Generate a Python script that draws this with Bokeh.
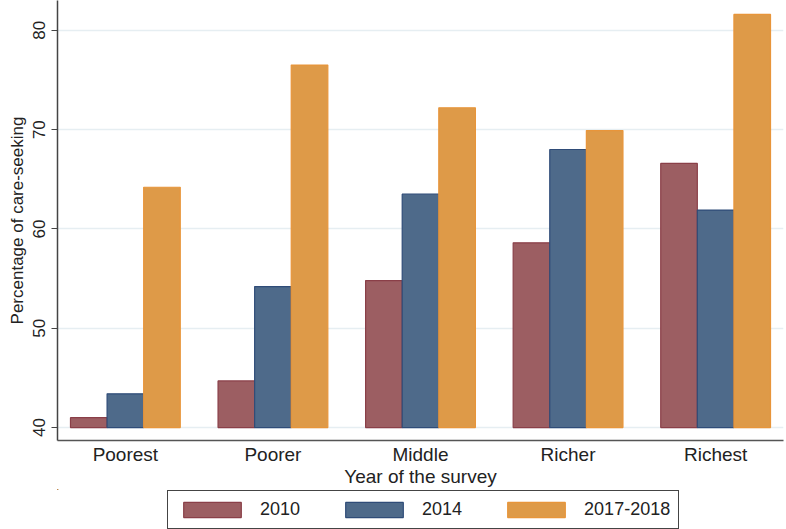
from bokeh.plotting import figure
from bokeh.layouts import column
from bokeh.models import ColumnDataSource, Range1d, FixedTicker, Legend, LegendItem
from bokeh.transform import dodge
from bokeh.embed import file_html
from bokeh.resources import INLINE

# ---- data ----
categories = ["Poorest", "Poorer", "Middle", "Richer", "Richest"]
positions = [1, 2, 3, 4, 5]
v2010 = [41.0, 44.7, 54.8, 58.6, 66.6]
v2014 = [43.4, 54.2, 63.5, 68.0, 61.9]
v2017 = [64.2, 76.5, 72.2, 69.9, 81.6]
series_labels = ["2010", "2014", "2017-2018"]
y_ticks = [40, 50, 60, 70, 80]

src = ColumnDataSource(dict(x=positions, v2010=v2010, v2014=v2014, v2017=v2017))

FONT = "Liberation Sans"

p = figure(frame_width=726, frame_height=440, output_backend="svg", toolbar_location=None,
           x_range=Range1d(0.54, 5.46), y_range=Range1d(38.7, 83.0),
           min_border_left=57, min_border_right=3, min_border_top=0,
           min_border_bottom=0,
           background_fill_color="white", border_fill_color="white")
p.outline_line_color = None

bw = 0.248
fills = ["#9c5e62", "#4e6a8a", "#de9a48"]
lines = ["#8a3f48", "#2f4c78", "#e8953a"]
cols = ["v2010", "v2014", "v2017"]
offs = [-bw, 0.0, bw]
for c, o, f, l in zip(cols, offs, fills, lines):
    p.vbar(x=dodge("x", o, range=p.x_range), top=c, bottom=40, width=bw,
           source=src, fill_color=f, line_color=l, line_width=1.2)

# axes
p.xaxis.ticker = FixedTicker(ticks=positions)
p.xaxis.major_label_overrides = {pos: cat for pos, cat in zip(positions, categories)}
p.xaxis.major_tick_out = 0
p.xaxis.major_tick_in = 0
p.xaxis.minor_tick_line_color = None
p.xaxis.major_label_text_font = FONT
p.xaxis.major_label_text_font_size = "19px"
p.xaxis.major_label_text_color = "#222222"
p.xaxis.major_label_standoff = 3
p.xaxis.axis_label = "Year of the survey"
p.xaxis.axis_label_text_font = FONT
p.xaxis.axis_label_text_font_size = "19px"
p.xaxis.axis_label_text_font_style = "normal"
p.xaxis.axis_label_text_color = "#222222"
p.xaxis.axis_label_standoff = -2
p.xaxis.axis_line_color = "#555555"
p.xaxis.axis_line_width = 1.5

p.yaxis.ticker = FixedTicker(ticks=y_ticks)
p.yaxis.major_label_orientation = "vertical"
p.yaxis.major_tick_out = 6
p.yaxis.major_tick_in = 0
p.yaxis.major_tick_line_color = "#444444"
p.yaxis.minor_tick_line_color = None
p.yaxis.major_label_text_font = FONT
p.yaxis.major_label_text_font_size = "17px"
p.yaxis.major_label_text_color = "#222222"
p.yaxis.major_label_standoff = 6
p.yaxis.axis_label = "Percentage of care-seeking"
p.yaxis.axis_label_text_font = FONT
p.yaxis.axis_label_text_font_size = "17px"
p.yaxis.axis_label_text_font_style = "normal"
p.yaxis.axis_label_text_color = "#222222"
p.yaxis.axis_label_standoff = 4
p.yaxis.axis_line_color = "#444444"
p.yaxis.axis_line_width = 1.5

p.xgrid.grid_line_color = None
p.ygrid.grid_line_color = "#e6eef2"
p.ygrid.grid_line_width = 1.5

# ---- legend strip (separate figure, legend inside its frame) ----
lg = figure(width=786, height=41, output_backend="svg", toolbar_location=None,
            x_range=Range1d(100, 101), y_range=Range1d(0, 1),
            min_border_left=0, min_border_right=0, min_border_top=0, min_border_bottom=0,
            background_fill_color="white", border_fill_color="white")
lg.outline_line_color = None
lg.axis.visible = False
lg.grid.visible = False
lrends = []
for c, o, f, l in zip(cols, offs, fills, lines):
    r = lg.vbar(x=dodge("x", o, range=lg.x_range), top=c, bottom=40, width=bw,
                source=src, fill_color=f, line_color=l, line_width=1.2)
    lrends.append(r)

legend = Legend(items=[LegendItem(label=lab, renderers=[r]) for lab, r in zip(series_labels, lrends)],
                orientation="horizontal", location=(110, 1))
legend.glyph_width = 72
legend.glyph_height = 19
legend.label_text_font = FONT
legend.label_text_font_size = "18px"
legend.label_text_color = "#222222"
legend.label_height = 19
legend.label_standoff = 12
legend.spacing = 38
legend.padding = 8
legend.margin = 0
legend.border_line_color = "#444444"
legend.border_line_alpha = 1.0
legend.border_line_width = 1.5
legend.background_fill_color = "white"
legend.background_fill_alpha = 1.0
lg.add_layout(legend, "center")

layout = column(p, lg, spacing=0)
open("out.html", "w").write(file_html(layout, INLINE))
